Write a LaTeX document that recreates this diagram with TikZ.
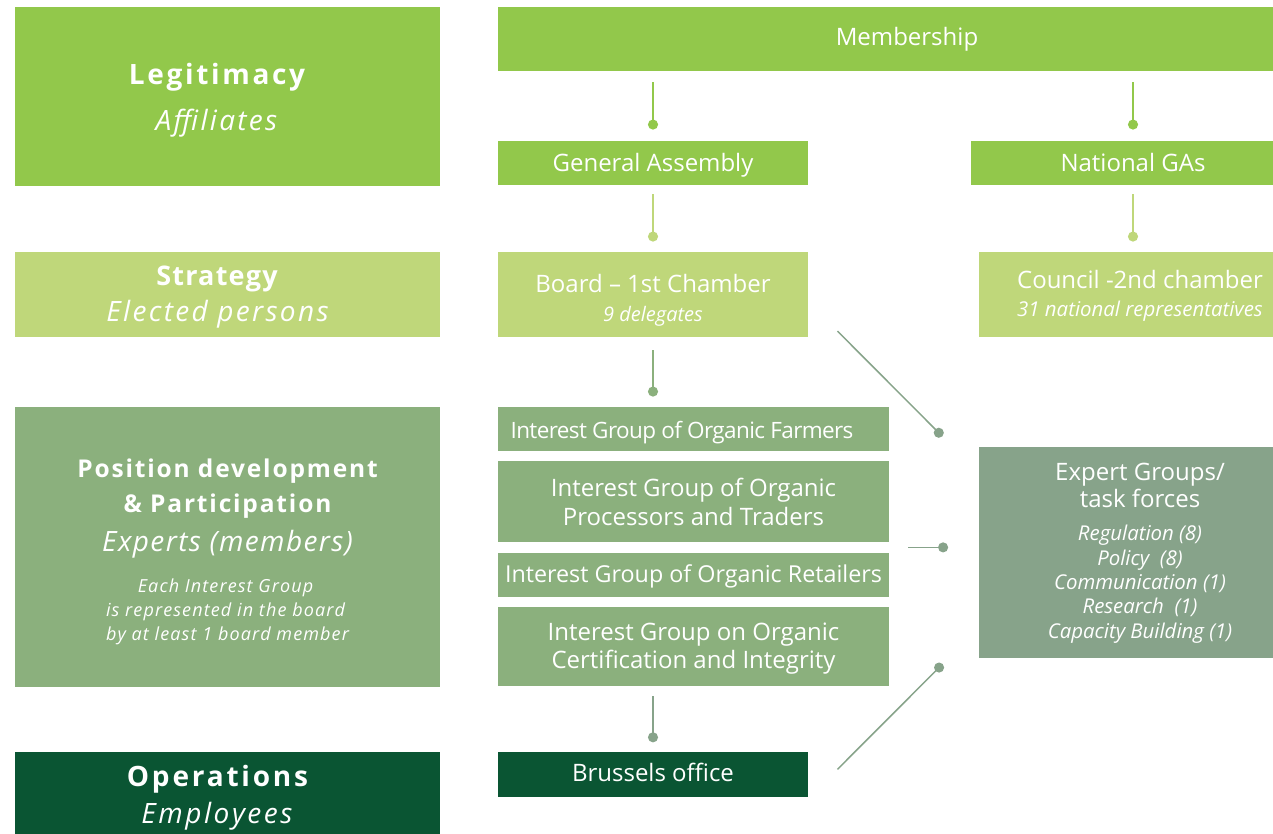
\documentclass[tikz,border=0pt]{standalone}
\usepackage{fontspec}
\setmainfont{Open Sans}
\usetikzlibrary{arrows.meta,calc}
\definecolor{cA}{HTML}{92C84B}
\definecolor{cB}{HTML}{BFD77A}
\definecolor{cC}{HTML}{8BB07D}
\definecolor{cD}{HTML}{87A38A}
\definecolor{cE}{HTML}{0A5533}
\newcommand\myfs[2]{\fontsize{#1}{#2}\selectfont}
\newcommand\ls[1]{\addfontfeature{LetterSpace=#1}}
\newcommand\sH[1]{\rule{0pt}{#1pt}}
\newcommand\sD[1]{\rule[-#1pt]{0pt}{#1pt}}
\newcommand\tr[1]{\rule{#1pt}{0pt}}
\lineskiplimit=-100pt
\tikzset{
  box/.style={rectangle, inner sep=0pt, text=white, align=center, anchor=center},
  conn/.style={line width=1.8pt, -{Circle[length=10pt]}},
  thin conn/.style={conn, line width=1.5pt},
}
\begin{document}
\begin{tikzpicture}[x=1pt,y=-1pt]
\useasboundingbox (0,0) rectangle (1273,833);
\clip (0,0) rectangle (1273,833);
% left column
\node[box, fill=cA, minimum width=425pt, minimum height=179pt, font=\myfs{28}{46}] (leg) at (227.5,96.5)
  {\sH{30}{\bfseries\ls{9.6}Legitimacy}\tr{21}\\{\itshape\ls{8.2}Affiliates}\tr{22}\sD{8}};
\node[box, fill=cB, minimum width=425pt, minimum height=85.5pt, font=\myfs{27}{36.7}] (strat) at (227.5,294.5)
  {\sH{25.7}{\bfseries\ls{4.5}Strategy}\tr{21}\\{\myfs{28}{36.7}\itshape\ls{8.3}Elected persons}\tr{20}\sD{8}};
\node[box, fill=cC, minimum width=425pt, minimum height=279.5pt, font=\myfs{24.5}{24}] (pos) at (227.5,547)
  {\sH{31.7}{\bfseries\ls{7.5}Position development}\\[11.7pt]
   {\bfseries\ls{7.5}\& Participation}\\[15pt]
   {\myfs{28}{24}\itshape\ls{5}Experts (members)}\\[17pt]
   {\myfs{18}{24}\itshape\ls{6.2}Each Interest Group}\tr{4}\\
   {\myfs{18}{24}\itshape\ls{6.2}is represented in the board}\tr{4}\\
   {\myfs{18}{24}\itshape\ls{6.2}by at least 1 board member}\sD{8}};
\node[box, fill=cE, minimum width=425pt, minimum height=96pt, font=\myfs{28}{37}] (ops) at (227.5,800)
  {\sH{23}{\bfseries\ls{10}Operations}\tr{20}\\{\itshape\ls{9.1}Employees}\tr{21}\sD{14}};
% middle and right columns
\node[box, fill=cA, minimum width=818pt, minimum height=64pt, font=\myfs{24}{28}] (memb) at (907,39)
  {\sH{19.2}Membership\sD{6}};
\node[box, fill=cA, minimum width=310pt, minimum height=44.5pt, font=\myfs{24}{28}] (ga) at (653,163)
  {\sH{22.6}General Assembly\sD{6}};
\node[box, fill=cA, minimum width=324pt, minimum height=44.5pt, font=\myfs{24}{28}] (natga) at (1133,163)
  {\sH{22.6}National GAs\sD{6}};
\node[box, fill=cB, minimum width=310pt, minimum height=85.5pt, font=\myfs{24}{29.5}] (board) at (653,294.5)
  {\sH{30.5}Board -- 1st Chamber\\{\myfs{20}{29.5}\itshape 9 delegates}\sD{6}};
\node[box, fill=cB, minimum width=322pt, minimum height=85.5pt, font=\myfs{24}{28.7}] (council) at (1140,294.5)
  {\sH{21.7}Council -2nd chamber\\{\myfs{20.4}{28.7}\itshape 31 national representatives}\sD{6}};
\node[box, fill=cC, minimum width=391pt, minimum height=44.5pt, font=\myfs{22.5}{28}] (igf) at (693.5,429)
  {\sH{25}{\ls{-2.7}Interest Group of Organic Farmers}\tr{23}\sD{5}};
\node[box, fill=cC, minimum width=391pt, minimum height=80.5pt, font=\myfs{24}{28.3}] (igp) at (693.5,501.5)
  {\sH{24.7}Interest Group of Organic\\Processors and Traders\sD{6}};
\node[box, fill=cC, minimum width=391pt, minimum height=44pt, font=\myfs{23.3}{28}] (igr) at (693.5,575)
  {\sH{20.4}Interest Group of Organic Retailers\sD{5}};
\node[box, fill=cC, minimum width=391pt, minimum height=79.5pt, font=\myfs{24}{27.6}] (igc) at (693.5,646.5)
  {\sH{22}Interest Group on Organic\\Certification and Integrity\sD{6}};
\node[box, fill=cE, minimum width=310pt, minimum height=45pt, font=\myfs{24}{28}] (brus) at (653,774)
  {\sH{20.4}Brussels office\sD{5}};
\node[box, fill=cD, minimum width=322pt, minimum height=211pt, font=\myfs{24}{24.4}] (exp) at (1140,552.5)
  {\sH{19.3}Expert Groups/\\[2.9pt]task forces\\[9pt]
   {\myfs{20.4}{24.4}\itshape Regulation (8)}\\
   {\myfs{20.4}{24.4}\itshape Policy~~(8)}\\
   {\myfs{20.4}{24.4}\itshape Communication (1)}\\
   {\myfs{20.4}{24.4}\itshape Research~~(1)}\\
   {\myfs{20.4}{24.4}\itshape Capacity Building (1)}\sD{6}};
% connectors
\draw[conn, cA] ($(memb.south -| ga.north)+(0,11)$) -- ($(ga.north)+(0,-11)$);
\draw[conn, cA] ($(memb.south -| natga.north)+(0,11)$) -- ($(natga.north)+(0,-11)$);
\draw[conn, cB] ($(ga.south)+(0,9)$) -- ($(board.north)+(0,-10)$);
\draw[conn, cB] ($(natga.south)+(0,9)$) -- ($(council.north -| natga.south)+(0,-10)$);
\draw[conn, cC] ($(board.south)+(0,13)$) -- ($(igf.north -| board.south)+(0,-10)$);
\draw[conn, cD] ($(igc.south -| brus.north)+(0,10)$) -- ($(brus.north)+(0,-9)$);
\draw[thin conn, cD] ($(board.south east)+(29.3,-6.3)$) -- ($(exp.north west)+(-36.5,-10.5)$);
\draw[thin conn, cD] ($(brus.east)+(29.3,-4.7)$) -- ($(exp.south west)+(-36.2,5.8)$);
\coordinate (hm) at ($(igp.south east)!0.5!(igr.north east)$);
\draw[thin conn, cD] ($(hm)+(19,0)$) -- ($(exp.west |- hm)+(-30.7,0)$);
\end{tikzpicture}
\end{document}
